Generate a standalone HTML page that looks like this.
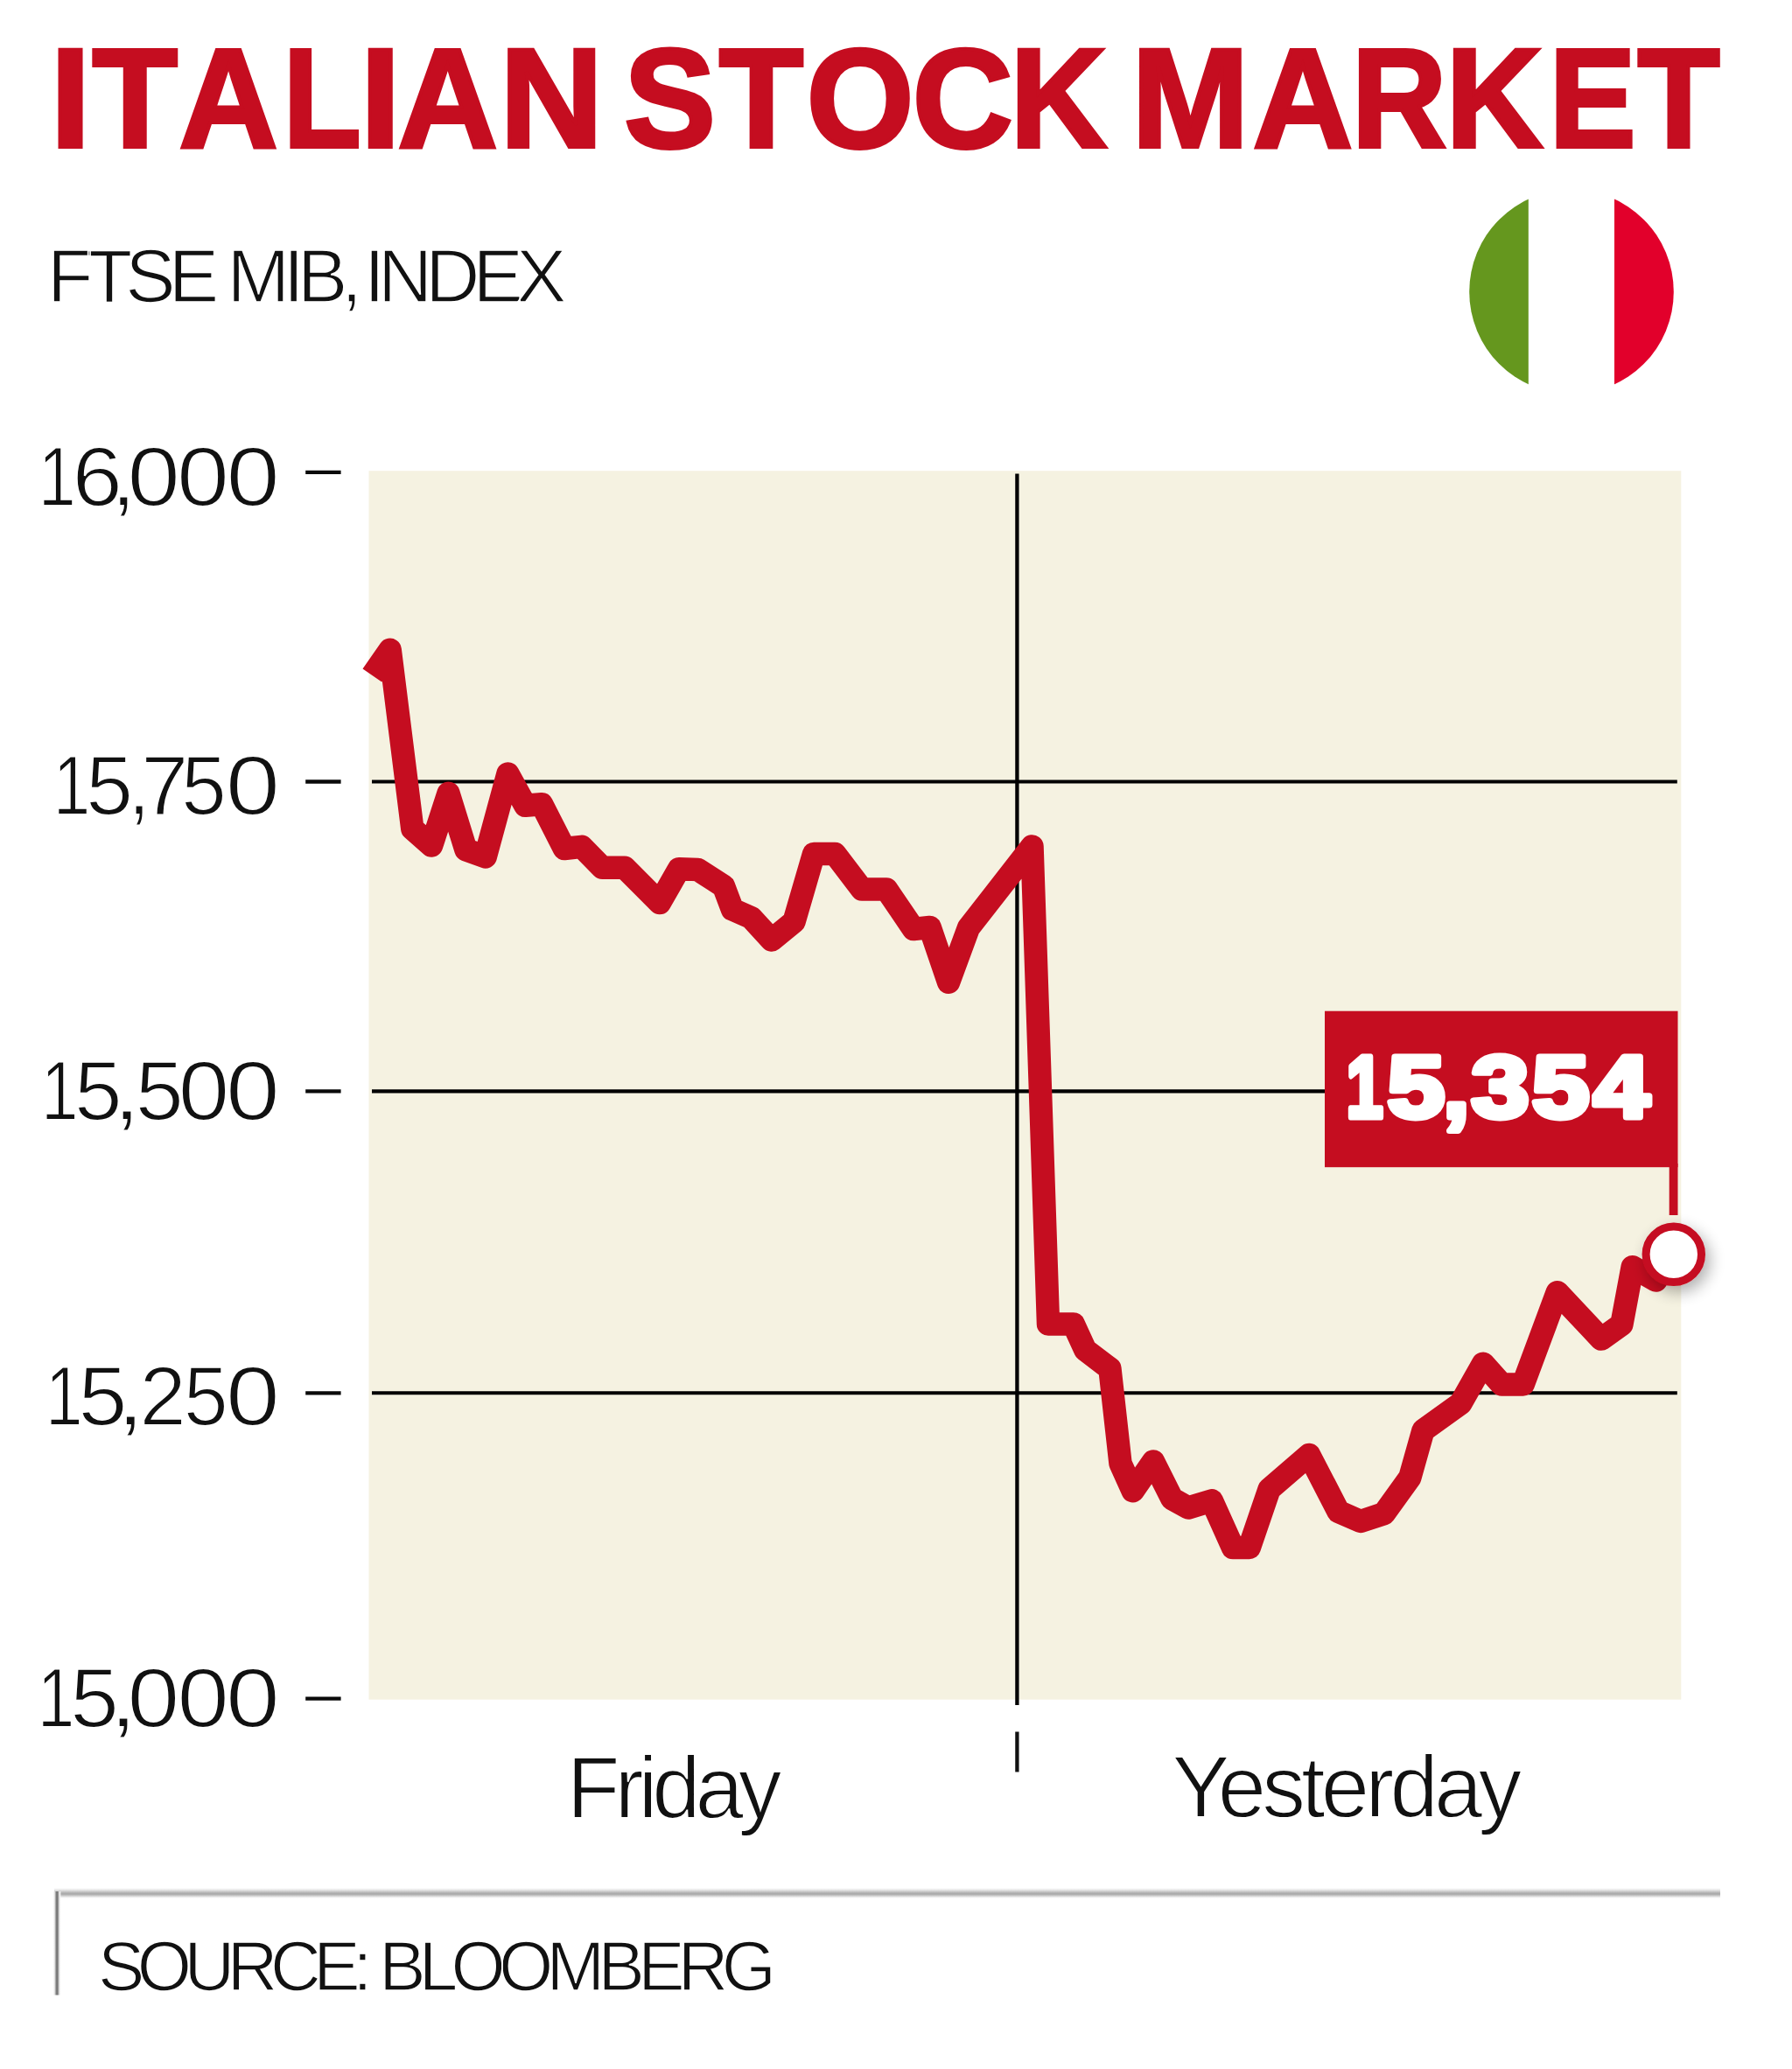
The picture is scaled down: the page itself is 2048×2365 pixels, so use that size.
<!DOCTYPE html>
<html lang="en">
<head>
<meta charset="utf-8">
<title>Italian Stock Market</title>
<style>
html,body{margin:0;padding:0;background:#fff;}
body{width:2048px;height:2365px;overflow:hidden;}
svg{display:block;}
text{font-family:"Liberation Sans", Arial, Helvetica, sans-serif;}
</style>
</head>
<body>
<svg width="2048" height="2365" viewBox="0 0 2048 2365" role="img" aria-label="Italian stock market chart">
<defs>
<filter id="sh" x="-100%" y="-100%" width="300%" height="300%"><feGaussianBlur in="SourceAlpha" stdDeviation="9"/><feOffset dx="5" dy="7" result="b"/><feComponentTransfer><feFuncA type="linear" slope="0.32"/></feComponentTransfer><feMerge><feMergeNode/><feMergeNode in="SourceGraphic"/></feMerge></filter>
<linearGradient id="hr" x1="0" y1="0" x2="0" y2="1"><stop offset="0" stop-color="#ffffff"/><stop offset="0.17" stop-color="#ebebeb"/><stop offset="0.33" stop-color="#cdcdcd"/><stop offset="0.5" stop-color="#adadad"/><stop offset="0.6" stop-color="#aaaaaa"/><stop offset="0.75" stop-color="#cdcdcd"/><stop offset="0.9" stop-color="#f2f2f2"/><stop offset="1" stop-color="#ffffff"/></linearGradient>
<linearGradient id="vr" x1="0" y1="0" x2="1" y2="0"><stop offset="0" stop-color="#ffffff"/><stop offset="0.18" stop-color="#e4e4e4"/><stop offset="0.34" stop-color="#9c9c9c"/><stop offset="0.45" stop-color="#777777"/><stop offset="0.56" stop-color="#777777"/><stop offset="0.67" stop-color="#9c9c9c"/><stop offset="0.82" stop-color="#e4e4e4"/><stop offset="1" stop-color="#ffffff"/></linearGradient>
<clipPath id="flagclip"><circle cx="1796" cy="333.5" r="116.8"/></clipPath>
</defs>
<rect x="0" y="0" width="2048" height="2365" fill="#ffffff"/>
<!-- flag -->
<g clip-path="url(#flagclip)">
<rect x="1670" y="210" width="76.8" height="250" fill="#65971e"/>
<rect x="1845" y="210" width="80" height="250" fill="#e2002b"/>
</g>
<!-- plot area -->
<rect x="421.5" y="538.2" width="1499.8" height="1404.5" fill="#f5f2e1"/>
<line x1="425" y1="893.5" x2="1916.8" y2="893.5" stroke="#000" stroke-width="4.1"/>
<line x1="425" y1="1247.4" x2="1916.8" y2="1247.4" stroke="#000" stroke-width="4.1"/>
<line x1="425" y1="1592.3" x2="1916.8" y2="1592.3" stroke="#000" stroke-width="4.1"/>
<line x1="349.2" y1="539.8" x2="389.6" y2="539.8" stroke="#0a0a0a" stroke-width="4.3"/>
<line x1="349.2" y1="893.5" x2="389.6" y2="893.5" stroke="#0a0a0a" stroke-width="4.3"/>
<line x1="349.2" y1="1247.4" x2="389.6" y2="1247.4" stroke="#0a0a0a" stroke-width="4.3"/>
<line x1="349.2" y1="1592.3" x2="389.6" y2="1592.3" stroke="#0a0a0a" stroke-width="4.3"/>
<line x1="349.2" y1="1941.7" x2="389.6" y2="1941.7" stroke="#0a0a0a" stroke-width="4.3"/>
<line x1="1162.4" y1="541.5" x2="1162.4" y2="1949" stroke="#000" stroke-width="4.3"/>
<line x1="1162.4" y1="1979.5" x2="1162.4" y2="2025.5" stroke="#111" stroke-width="4.3"/>
<!-- value label -->
<rect x="1514" y="1155.7" width="403.5" height="178.5" fill="#c50d20"/>
<rect x="1907.7" y="1330" width="9.8" height="59" fill="#c50d20"/>
<!-- index line -->
<polyline points="425.4,772 445.7,742.8 471.3,947.3 493.1,966.5 512.5,906.9 532.4,971.2 554.7,979.4 580.5,884.6 600.4,920.8 619.1,919.3 644.9,970 664.8,967.8 688.3,991.8 714,991.8 753.9,1032 776,993.3 797.5,994 827,1013 837,1039.5 858.5,1049 881.9,1074.5 907.5,1053.5 930.1,975.9 954.2,975.9 985,1016.5 1013.1,1016.5 1044,1062 1062.7,1060 1084.1,1122.8 1106.9,1060.7 1179.5,967.5 1198,1513.5 1226.8,1513.5 1240.3,1543 1268.4,1564.4 1280.5,1672.9 1294.7,1704.2 1318,1670.5 1339.4,1713.1 1358.1,1723.5 1384.9,1715.4 1409,1769 1427.8,1769 1450.6,1702.3 1496.1,1663 1529.6,1727.8 1555,1739 1581.8,1730.1 1611.3,1689 1626.5,1635 1669.3,1604.3 1695,1558.7 1716.2,1582.4 1740.7,1582.4 1779.8,1477.2 1830,1530.6 1853.4,1513.9 1865.7,1448.2 1892.5,1463.6 1912.8,1434" fill="none" stroke="#c50d20" stroke-width="26.5" stroke-linejoin="round" stroke-linecap="butt"/>
<circle cx="1912.8" cy="1433.8" r="31.7" fill="#ffffff" stroke="#c50d20" stroke-width="9" filter="url(#sh)"/>
<!-- footer -->
<rect x="62" y="2158" width="1904" height="12" fill="url(#hr)"/>
<rect x="60.9" y="2162" width="8.4" height="118.5" fill="url(#vr)"/>
<!-- text -->
<text y="167.6" font-weight="bold" font-size="161.5" fill="#c50d20" stroke="#c50d20" stroke-width="4" stroke-linejoin="miter" xml:space="preserve"><tspan x="57.45" textLength="46.04" lengthAdjust="spacingAndGlyphs">I</tspan><tspan x="105.40" textLength="97.46" lengthAdjust="spacingAndGlyphs">T</tspan><tspan x="204.60" textLength="113.16" lengthAdjust="spacingAndGlyphs">A</tspan><tspan x="323.55" textLength="89.24" lengthAdjust="spacingAndGlyphs">L</tspan><tspan x="411.85" textLength="46.04" lengthAdjust="spacingAndGlyphs">I</tspan><tspan x="454.60" textLength="114.39" lengthAdjust="spacingAndGlyphs">A</tspan><tspan x="571.20" textLength="118.06" lengthAdjust="spacingAndGlyphs">N</tspan> <tspan x="713.15" textLength="104.68" lengthAdjust="spacingAndGlyphs">S</tspan><tspan x="821.80" textLength="96.47" lengthAdjust="spacingAndGlyphs">T</tspan><tspan x="921.80" textLength="122.62" lengthAdjust="spacingAndGlyphs">O</tspan><tspan x="1042.80" textLength="114.96" lengthAdjust="spacingAndGlyphs">C</tspan><tspan x="1154.55" textLength="110.39" lengthAdjust="spacingAndGlyphs">K</tspan> <tspan x="1293.20" textLength="134.30" lengthAdjust="spacingAndGlyphs">M</tspan><tspan x="1431.80" textLength="114.39" lengthAdjust="spacingAndGlyphs">A</tspan><tspan x="1544.75" textLength="108.54" lengthAdjust="spacingAndGlyphs">R</tspan><tspan x="1652.55" textLength="110.60" lengthAdjust="spacingAndGlyphs">K</tspan><tspan x="1770.60" textLength="99.12" lengthAdjust="spacingAndGlyphs">E</tspan><tspan x="1871.60" textLength="94.07" lengthAdjust="spacingAndGlyphs">T</tspan></text>
<text y="344.6" font-weight="normal" font-size="86" fill="#111111" stroke="#fff" stroke-width="1.6" xml:space="preserve"><tspan x="54.10" letter-spacing="-7.900">FTSE</tspan> <tspan x="259.50" letter-spacing="-7.500">MIB,</tspan> <tspan x="415.90" letter-spacing="-7.825">INDEX</tspan></text>
<text y="577.8" font-weight="normal" font-size="96.5" fill="#111111" stroke="#fff" stroke-width="1.8" xml:space="preserve"><tspan x="43.85" textLength="42.98" lengthAdjust="spacingAndGlyphs">1</tspan><tspan x="82.60" textLength="57.42" lengthAdjust="spacingAndGlyphs">6</tspan><tspan x="126.80" textLength="28.86" lengthAdjust="spacingAndGlyphs">,</tspan><tspan x="145.60" textLength="60.35" lengthAdjust="spacingAndGlyphs">0</tspan><tspan x="202.10" textLength="59.89" lengthAdjust="spacingAndGlyphs">0</tspan><tspan x="258.55" textLength="61.19" lengthAdjust="spacingAndGlyphs">0</tspan></text>
<text y="930.7" font-weight="normal" font-size="95.5" fill="#111111" stroke="#fff" stroke-width="1.8" xml:space="preserve"><tspan x="60.70" textLength="42.50" lengthAdjust="spacingAndGlyphs">1</tspan><tspan x="98.35" textLength="53.75" lengthAdjust="spacingAndGlyphs">5</tspan><tspan x="146.25" textLength="25.40" lengthAdjust="spacingAndGlyphs">,</tspan><tspan x="161.15" textLength="54.03" lengthAdjust="spacingAndGlyphs">7</tspan><tspan x="207.35" textLength="51.52" lengthAdjust="spacingAndGlyphs">5</tspan><tspan x="257.65" textLength="62.23" lengthAdjust="spacingAndGlyphs">0</tspan></text>
<text y="1280.2" font-weight="normal" font-size="95.5" fill="#111111" stroke="#fff" stroke-width="1.8" xml:space="preserve"><tspan x="46.90" textLength="42.50" lengthAdjust="spacingAndGlyphs">1</tspan><tspan x="84.90" textLength="54.62" lengthAdjust="spacingAndGlyphs">5</tspan><tspan x="129.10" textLength="31.75" lengthAdjust="spacingAndGlyphs">,</tspan><tspan x="154.80" textLength="55.12" lengthAdjust="spacingAndGlyphs">5</tspan><tspan x="203.85" textLength="58.48" lengthAdjust="spacingAndGlyphs">0</tspan><tspan x="258.05" textLength="61.77" lengthAdjust="spacingAndGlyphs">0</tspan></text>
<text y="1629.4" font-weight="normal" font-size="95.5" fill="#111111" stroke="#fff" stroke-width="1.8" xml:space="preserve"><tspan x="51.90" textLength="42.50" lengthAdjust="spacingAndGlyphs">1</tspan><tspan x="89.45" textLength="55.99" lengthAdjust="spacingAndGlyphs">5</tspan><tspan x="133.20" textLength="31.75" lengthAdjust="spacingAndGlyphs">,</tspan><tspan x="159.55" textLength="53.26" lengthAdjust="spacingAndGlyphs">2</tspan><tspan x="210.00" textLength="50.65" lengthAdjust="spacingAndGlyphs">5</tspan><tspan x="258.05" textLength="61.77" lengthAdjust="spacingAndGlyphs">0</tspan></text>
<text y="1974" font-weight="normal" font-size="95.5" fill="#111111" stroke="#fff" stroke-width="1.8" xml:space="preserve"><tspan x="42.70" textLength="42.50" lengthAdjust="spacingAndGlyphs">1</tspan><tspan x="80.20" textLength="55.62" lengthAdjust="spacingAndGlyphs">5</tspan><tspan x="124.90" textLength="31.75" lengthAdjust="spacingAndGlyphs">,</tspan><tspan x="145.60" textLength="59.76" lengthAdjust="spacingAndGlyphs">0</tspan><tspan x="202.60" textLength="59.30" lengthAdjust="spacingAndGlyphs">0</tspan><tspan x="258.05" textLength="61.77" lengthAdjust="spacingAndGlyphs">0</tspan></text>
<text y="2077.8" font-weight="normal" font-size="99.5" fill="#111111" stroke="#fff" stroke-width="1.8" xml:space="preserve"><tspan x="647.80" letter-spacing="-6.160">Friday</tspan></text>
<text y="2077.3" font-weight="normal" font-size="99.5" fill="#111111" stroke="#fff" stroke-width="1.8" xml:space="preserve"><tspan x="1339.30" letter-spacing="-4.862">Yesterday</tspan></text>
<text y="2274.6" font-weight="normal" font-size="80" fill="#111111" stroke="#fff" stroke-width="1.5" xml:space="preserve"><tspan x="112.00" letter-spacing="-8.517">SOURCE:</tspan> <tspan x="433.20" letter-spacing="-7.725">BLOOMBERG</tspan></text>
<text y="1277.2" font-weight="bold" font-size="100" fill="#ffffff" stroke="#fff" stroke-width="7" stroke-linejoin="round" xml:space="preserve"><tspan x="1538.80" textLength="41.82" lengthAdjust="spacingAndGlyphs">1</tspan><tspan x="1585.70" textLength="65.23" lengthAdjust="spacingAndGlyphs">5</tspan><tspan x="1649.55" textLength="29.71" lengthAdjust="spacingAndGlyphs">,</tspan><tspan x="1681.65" textLength="65.69" lengthAdjust="spacingAndGlyphs">3</tspan><tspan x="1750.90" textLength="65.23" lengthAdjust="spacingAndGlyphs">5</tspan><tspan x="1821.15" textLength="63.75" lengthAdjust="spacingAndGlyphs">4</tspan></text>
</svg>
</body>
</html>
